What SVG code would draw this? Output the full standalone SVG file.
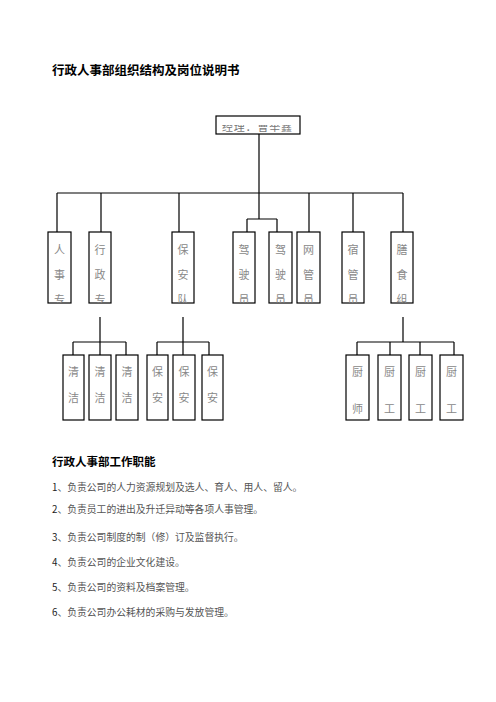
<svg xmlns="http://www.w3.org/2000/svg" width="496" height="702" viewBox="0 0 496 702">
<style>
.t{font-family:"Noto Sans CJK SC","Noto Sans",sans-serif}
.title{font-weight:bold;fill:#000}
.box{fill:#fff;stroke:#000;stroke-width:1.2}
.bt{font-family:"Noto Sans CJK SC",sans-serif;font-size:11px;fill:#888;text-anchor:middle}
.li{font-family:"Noto Sans CJK SC",sans-serif;font-size:9.8px;fill:#555}
.num{fill:#222}
#connectors path{fill:none;stroke:#000;stroke-width:1.2}
</style>
<rect width="496" height="702" fill="#fff"/>
<text class="t title" x="52" y="75" font-size="12.5">行政人事部组织结构及岗位说明书</text>

<g id="connectors">
<path d="M259 134V219M57 193H403M57 193V232M101 193V232M179 193V232M247 219H277M247 219V232M277 219V232M309 193V232M353 193V232M403 193V232"/>
<path d="M100 317V342M73 342H126M73 342V355M100 342V355M126 342V355"/>
<path d="M183 317V342M157 342H209M157 342V355M183 342V355M209 342V355"/>
<path d="M403 317V342M357 342H454M357 342V355M390 342V355M420 342V355M454 342V355"/>
</g>

<g id="gm">
<rect class="box" x="216" y="116" width="84" height="18"/>
<svg x="216" y="125" width="84" height="8.5" overflow="hidden">
<text class="t" x="6" y="5.5" font-size="11" fill="#777" letter-spacing="0.8">经理：曹举鑫</text>
</svg>
</g>

<g id="n-renshi"><rect class="box" x="48" y="232" width="23" height="71"/>
<svg x="48" y="232" width="23" height="71" overflow="hidden"><text class="bt" x="11.5" y="22">人</text><text class="bt" x="11.5" y="47">事</text><text class="bt" x="11.5" y="72">专</text></svg></g>
<g id="n-xingzheng"><rect class="box" x="89" y="232" width="22" height="71"/>
<svg x="89" y="232" width="22" height="71" overflow="hidden"><text class="bt" x="11" y="22">行</text><text class="bt" x="11" y="47">政</text><text class="bt" x="11" y="72">专</text></svg></g>
<g id="n-baoandui"><rect class="box" x="172" y="232" width="22" height="71"/>
<svg x="172" y="232" width="22" height="71" overflow="hidden"><text class="bt" x="11" y="22">保</text><text class="bt" x="11" y="47">安</text><text class="bt" x="11" y="72">队</text></svg></g>
<g id="n-jiashi1"><rect class="box" x="233" y="232" width="22" height="71"/>
<svg x="233" y="232" width="22" height="71" overflow="hidden"><text class="bt" x="11" y="22">驾</text><text class="bt" x="11" y="47">驶</text><text class="bt" x="11" y="72">员</text></svg></g>
<g id="n-jiashi2"><rect class="box" x="269" y="232" width="23" height="71"/>
<svg x="269" y="232" width="23" height="71" overflow="hidden"><text class="bt" x="11.5" y="22">驾</text><text class="bt" x="11.5" y="47">驶</text><text class="bt" x="11.5" y="72">员</text></svg></g>
<g id="n-wangguan"><rect class="box" x="297" y="232" width="23" height="71"/>
<svg x="297" y="232" width="23" height="71" overflow="hidden"><text class="bt" x="11.5" y="22">网</text><text class="bt" x="11.5" y="47">管</text><text class="bt" x="11.5" y="72">员</text></svg></g>
<g id="n-suguan"><rect class="box" x="342" y="232" width="22" height="71"/>
<svg x="342" y="232" width="22" height="71" overflow="hidden"><text class="bt" x="11" y="22">宿</text><text class="bt" x="11" y="47">管</text><text class="bt" x="11" y="72">员</text></svg></g>
<g id="n-shanshi"><rect class="box" x="391" y="232" width="22" height="71"/>
<svg x="391" y="232" width="22" height="71" overflow="hidden"><text class="bt" x="11" y="22">膳</text><text class="bt" x="11" y="47">食</text><text class="bt" x="11" y="72">组</text></svg></g>

<g id="n-qj1"><rect class="box" x="63" y="355" width="21" height="65"/><text class="bt" x="73.5" y="376">清</text><text class="bt" x="73.5" y="402">洁</text></g>
<g id="n-qj2"><rect class="box" x="89" y="355" width="22" height="65"/><text class="bt" x="100" y="376">清</text><text class="bt" x="100" y="402">洁</text></g>
<g id="n-qj3"><rect class="box" x="116" y="355" width="22" height="65"/><text class="bt" x="127" y="376">清</text><text class="bt" x="127" y="402">洁</text></g>
<g id="n-ba1"><rect class="box" x="147" y="355" width="21" height="65"/><text class="bt" x="157.5" y="376">保</text><text class="bt" x="157.5" y="402">安</text></g>
<g id="n-ba2"><rect class="box" x="173" y="355" width="22" height="65"/><text class="bt" x="184" y="376">保</text><text class="bt" x="184" y="402">安</text></g>
<g id="n-ba3"><rect class="box" x="202" y="355" width="21" height="65"/><text class="bt" x="212.5" y="376">保</text><text class="bt" x="212.5" y="402">安</text></g>
<g id="n-cs"><rect class="box" x="346" y="355" width="23" height="65"/><text class="bt" x="357.5" y="376">厨</text><text class="bt" x="357.5" y="413">师</text></g>
<g id="n-cg1"><rect class="box" x="378" y="355" width="23" height="65"/><text class="bt" x="389.5" y="376">厨</text><text class="bt" x="389.5" y="413">工</text></g>
<g id="n-cg2"><rect class="box" x="409" y="355" width="23" height="65"/><text class="bt" x="420.5" y="376">厨</text><text class="bt" x="420.5" y="413">工</text></g>
<g id="n-cg3"><rect class="box" x="440" y="355" width="23" height="65"/><text class="bt" x="451.5" y="376">厨</text><text class="bt" x="451.5" y="413">工</text></g>

<text class="t title" x="52" y="465.5" font-size="11.5">行政人事部工作职能</text>
<text class="li" x="52" y="491"><tspan class="num">1</tspan>、负责公司的人力资源规划及选人、育人、用人、留人。</text>
<text class="li" x="52" y="513"><tspan class="num">2</tspan>、负责员工的进出及升迁异动等各项人事管理。</text>
<text class="li" x="52" y="541"><tspan class="num">3</tspan>、负责公司制度的制（修）订及监督执行。</text>
<text class="li" x="52" y="566"><tspan class="num">4</tspan>、负责公司的企业文化建设。</text>
<text class="li" x="52" y="591"><tspan class="num">5</tspan>、负责公司的资料及档案管理。</text>
<text class="li" x="52" y="616"><tspan class="num">6</tspan>、负责公司办公耗材的采购与发放管理。</text>
</svg>
